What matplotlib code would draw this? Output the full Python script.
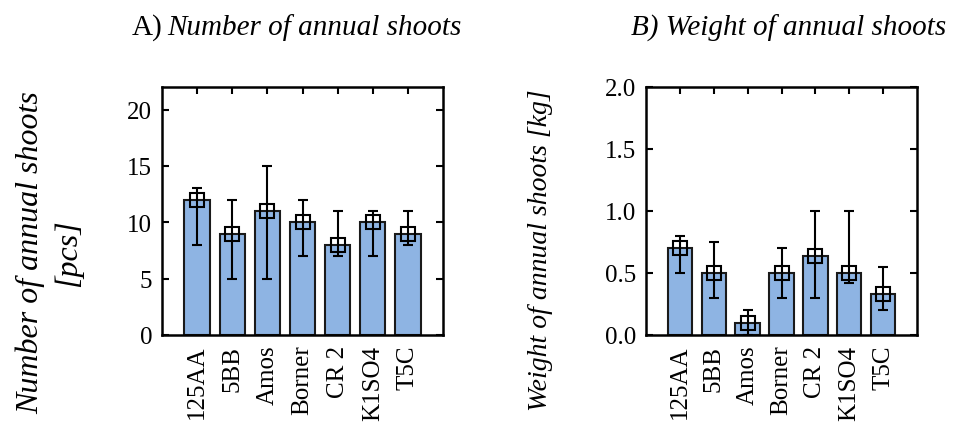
import matplotlib
matplotlib.use("Agg")
import matplotlib.pyplot as plt
import numpy as np

categories = ["125AA", "5BB", "Amos", "Borner", "CR 2", "K1SO4", "T5C"]

count_mean = [12, 9, 11, 10, 8, 10, 9]
count_low = [8, 5, 5, 7, 7, 7, 8]
count_high = [13, 12, 15, 12, 11, 11, 11]

weight_mean = [0.70, 0.50, 0.10, 0.50, 0.64, 0.50, 0.33]
weight_low = [0.50, 0.30, 0.00, 0.30, 0.30, 0.42, 0.20]
weight_high = [0.80, 0.75, 0.20, 0.70, 1.00, 1.00, 0.55]

plt.rcParams['font.family'] = ['Liberation Serif', 'DejaVu Serif']
FS = 18
TFS = 21
plt.rcParams['font.size'] = FS

fig = plt.figure(figsize=(9.54, 4.27), dpi=100)
W, H = 954, 427

def ax_at(l, t, r, b):
    return fig.add_axes([l / W, 1 - b / H, (r - l) / W, (b - t) / H])

axA = ax_at(162, 88, 443, 336)
axB = ax_at(646, 88, 917, 336)

bar_color = '#8EB4E3'

def draw(ax, mean, low, high, ylim, yticks, fmt):
    x = np.arange(len(categories))
    mean = np.array(mean)
    yerr = [mean - np.array(low), np.array(high) - mean]
    ax.bar(x, mean, width=0.72, color=bar_color, edgecolor='#1a1a1a',
           linewidth=1.5, zorder=2)
    ax.errorbar(x, mean, yerr=yerr, fmt='none', ecolor='black',
                elinewidth=1.5, capsize=3.5, capthick=1.5, zorder=3)
    ax.plot(x, mean, linestyle='none', marker='s', markersize=10,
            markerfacecolor='none', markeredgecolor='black',
            markeredgewidth=1.5, zorder=4)
    ax.set_xlim(-1, len(categories))
    ax.set_ylim(*ylim)
    ax.set_yticks(yticks)
    ax.set_yticklabels([fmt.format(v) for v in yticks])
    ax.set_xticks(x)
    ax.set_xticklabels(categories, rotation=90)
    ax.tick_params(direction='in', top=True, right=True, length=5,
                   width=1.5, labelsize=FS, pad=7)
    for s in ax.spines.values():
        s.set_linewidth(1.8)

draw(axA, count_mean, count_low, count_high, (0, 22), [0, 5, 10, 15, 20], "{:g}")
draw(axB, weight_mean, weight_low, weight_high, (0, 2.0), [0.0, 0.5, 1.0, 1.5, 2.0], "{:.1f}")

fig.text(162 / W, 1 - 28 / H, "A)", ha='right', va='center', fontsize=TFS)
fig.text(167 / W, 1 - 28 / H, "Number of annual shoots", ha='left',
         va='center', fontsize=TFS, style='italic')
fig.text(789 / W, 1 - 28 / H, "B) Weight of annual shoots", ha='center',
         va='center', fontsize=TFS, style='italic')

fig.text(30 / W, 1 - 253 / H, "Number of annual shoots", rotation=90,
         ha='center', va='center', fontsize=23, style='italic')
fig.text(68 / W, 1 - 253 / H, "[pcs]", rotation=90,
         ha='center', va='center', fontsize=23, style='italic')
fig.text(541 / W, 1 - 250 / H, "Weight of annual shoots [kg]", rotation=90,
         ha='center', va='center', fontsize=20, style='italic')

fig.savefig("out.png", dpi=100)
